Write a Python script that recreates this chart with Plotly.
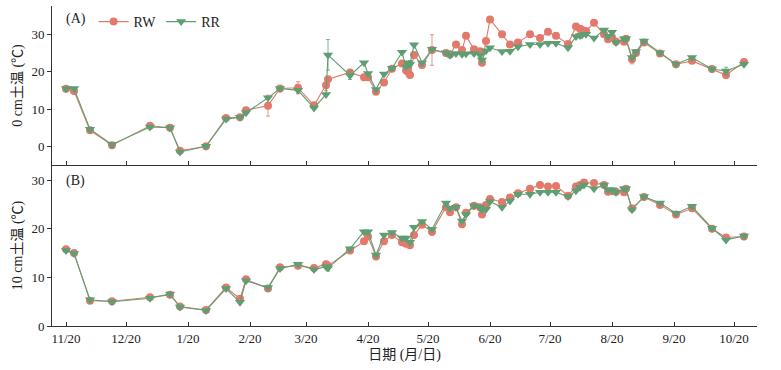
import plotly.graph_objects as go

# ---------------- data ----------------
dates_a = ["2017-11-20", "2017-11-24", "2017-12-02", "2017-12-13", "2018-01-01", "2018-01-11",
           "2018-01-16", "2018-01-29", "2018-02-08", "2018-02-15", "2018-02-18", "2018-03-01",
           "2018-03-07", "2018-03-16", "2018-03-24", "2018-03-30", "2018-03-31", "2018-04-11",
           "2018-04-18", "2018-04-20", "2018-04-24", "2018-04-28", "2018-05-02", "2018-05-07",
           "2018-05-09", "2018-05-10", "2018-05-11", "2018-05-13", "2018-05-17", "2018-05-22",
           "2018-05-29", "2018-05-31", "2018-06-03", "2018-06-06", "2018-06-08", "2018-06-12",
           "2018-06-15", "2018-06-16", "2018-06-18", "2018-06-20", "2018-06-26", "2018-06-30",
           "2018-07-04", "2018-07-10", "2018-07-15", "2018-07-19", "2018-07-23", "2018-07-29",
           "2018-08-02", "2018-08-04", "2018-08-05", "2018-08-07", "2018-08-11", "2018-08-16",
           "2018-08-18", "2018-08-20", "2018-08-22", "2018-08-26", "2018-08-27", "2018-08-30",
           "2018-09-01", "2018-09-05", "2018-09-13", "2018-09-21", "2018-09-29", "2018-10-09",
           "2018-10-16", "2018-10-25"]
rw_a = [15.4, 14.8, 4.3, 0.3, 5.5, 5.0, -1.2, 0.0, 7.6, 7.8, 9.7, 10.9,
        15.5, 15.7, 11.0, 16.4, 18.0, 19.8, 18.5, 18.5, 14.6, 17.1, 20.8, 22.2,
        20.4, 19.9, 19.1, 24.5, 21.8, 25.8, 25.0, 24.6, 27.3, 25.8, 29.6, 26.0,
        25.5, 22.4, 28.2, 34.0, 30.0, 27.3, 27.8, 30.0, 29.0, 30.7, 29.6, 27.4,
        32.1, 31.5, 31.2, 30.9, 33.1, 30.0, 28.7, 29.2, 28.1, 28.0, 28.8, 23.3,
        25.0, 27.8, 24.9, 22.0, 22.9, 20.7, 19.1, 22.6]
rr_a = [15.5, 15.5, 4.6, 0.5, 5.2, 5.0, -1.5, 0.0, 7.3, 7.8, 9.0, 13.0,
        15.5, 15.0, 10.3, 13.9, 24.5, 19.0, 22.4, 19.5, 15.2, 19.4, 20.9, 25.2,
        21.3, 22.4, 22.0, 27.2, 22.4, 26.0, 25.1, 24.4, 24.9, 24.7, 24.8, 24.9,
        24.5, 23.1, 25.6, 26.4, 25.4, 25.5, 26.7, 27.3, 27.3, 27.6, 27.6, 26.4,
        29.4, 29.7, 29.8, 30.0, 29.0, 31.2, 29.5, 30.6, 27.8, 28.8, 28.8, 23.8,
        25.4, 28.2, 25.1, 22.0, 23.8, 20.7, 20.2, 22.0]
rw_a_err = {"2018-03-01": 2.8, "2018-03-16": 1.6, "2018-03-30": 1.5, "2018-05-22": 4.1,
            "2018-08-30": 1.2, "2018-10-16": 0.9}
rr_a_err = {"2018-03-31": 4.1, "2018-04-11": 1.1, "2018-05-11": 1.0, "2018-10-16": 1.0}

dates_b = ["2017-11-20", "2017-11-24", "2017-12-02", "2017-12-13", "2018-01-01", "2018-01-11",
           "2018-01-16", "2018-01-29", "2018-02-08", "2018-02-15", "2018-02-18", "2018-03-01",
           "2018-03-07", "2018-03-16", "2018-03-24", "2018-03-30", "2018-03-31", "2018-04-11",
           "2018-04-18", "2018-04-20", "2018-04-24", "2018-04-28", "2018-05-02", "2018-05-07",
           "2018-05-09", "2018-05-11", "2018-05-13", "2018-05-17", "2018-05-22", "2018-05-29",
           "2018-05-31", "2018-06-03", "2018-06-06", "2018-06-08", "2018-06-12", "2018-06-15",
           "2018-06-16", "2018-06-18", "2018-06-20", "2018-06-26", "2018-06-30", "2018-07-04",
           "2018-07-10", "2018-07-15", "2018-07-19", "2018-07-23", "2018-07-29", "2018-08-02",
           "2018-08-04", "2018-08-06", "2018-08-11", "2018-08-16", "2018-08-18", "2018-08-20",
           "2018-08-22", "2018-08-26", "2018-08-27", "2018-08-30", "2018-09-05", "2018-09-13",
           "2018-09-21", "2018-09-29", "2018-10-09", "2018-10-16", "2018-10-25"]
rw_b = [15.8, 15.0, 5.2, 5.1, 5.9, 6.4, 4.0, 3.3, 7.9, 5.6, 9.6, 7.7,
        12.1, 12.4, 11.9, 12.7, 12.4, 15.5, 17.4, 18.4, 14.3, 17.4, 18.7, 17.2,
        16.9, 16.6, 18.7, 20.8, 19.4, 24.4, 23.4, 24.4, 20.9, 23.3, 24.7, 24.4,
        22.9, 24.9, 26.1, 25.5, 26.4, 27.3, 28.2, 29.0, 28.7, 28.8, 26.8, 28.7,
        29.0, 29.5, 29.4, 29.0, 27.6, 27.7, 27.6, 27.5, 28.2, 24.2, 26.5, 24.9,
        22.9, 24.2, 20.0, 18.2, 18.4]
rr_b = [15.5, 14.9, 5.4, 5.0, 5.7, 6.6, 3.9, 3.2, 7.7, 4.9, 9.3, 7.9,
        11.8, 12.7, 11.6, 12.2, 11.9, 15.9, 19.4, 19.4, 14.6, 18.7, 19.2, 18.1,
        18.1, 17.2, 20.3, 21.5, 19.9, 25.3, 24.2, 24.4, 21.6, 22.9, 24.7, 24.4,
        23.9, 24.0, 25.6, 24.4, 25.7, 27.1, 27.1, 27.5, 27.5, 27.5, 26.6, 27.8,
        28.5, 29.0, 28.2, 29.0, 28.0, 28.0, 27.5, 28.2, 28.2, 23.9, 26.6, 25.3,
        23.2, 24.6, 20.1, 17.7, 18.5]
rw_b_err = {"2018-05-22": 0.8, "2018-03-30": 0.6}
rr_b_err = {"2018-03-31": 0.6}

tick_dates = ["2017-11-20", "2017-12-20", "2018-01-20", "2018-02-20", "2018-03-20", "2018-04-20",
              "2018-05-20", "2018-06-20", "2018-07-20", "2018-08-20", "2018-09-20", "2018-10-20"]
tick_labels = ["11/20", "12/20", "1/20", "2/20", "3/20", "4/20",
               "5/20", "6/20", "7/20", "8/20", "9/20", "10/20"]

# ---------------- style ----------------
RW_COLOR = "#E2796B"
RR_COLOR = "#5E9E73"
FONT = "Liberation Serif, Noto Sans CJK SC"
AXIS_COLOR = "#333333"

def errs(dates, d):
    return [d.get(x, 0) for x in dates]

fig = go.Figure()

def add(dates, vals, err, color, symbol, size, name, yaxis, show):
    fig.add_trace(go.Scatter(
        x=dates, y=vals, name=name, mode="lines+markers",
        line=dict(color=color, width=1.1),
        marker=dict(color=color, symbol=symbol, size=size, line=dict(width=0)),
        error_y=dict(type="data", array=err, visible=True, color=color,
                     thickness=0.8, width=2),
        xaxis="x" if yaxis == "y" else "x2", yaxis=yaxis,
        showlegend=show))

add(dates_a, rw_a, errs(dates_a, rw_a_err), RW_COLOR, "circle", 8, "RW", "y", True)
add(dates_a, rr_a, errs(dates_a, rr_a_err), RR_COLOR, "triangle-down", 9, "RR", "y", True)
add(dates_b, rw_b, errs(dates_b, rw_b_err), RW_COLOR, "circle", 8, "RW", "y2", False)
add(dates_b, rr_b, errs(dates_b, rr_b_err), RR_COLOR, "triangle-down", 9, "RR", "y2", False)

xr = ["2017-11-13", "2018-10-31 12:00"]
split = (326 - 165) / 320.0

common_x = dict(type="date", range=xr, tickvals=tick_dates, showline=True, automargin=False,
                linecolor=AXIS_COLOR, linewidth=1, ticks="inside", ticklen=4,
                tickcolor=AXIS_COLOR, showgrid=False, zeroline=False,
                tickfont=dict(family=FONT, size=13, color="#222"))
common_y = dict(showline=True, linecolor=AXIS_COLOR, linewidth=1, ticks="outside",
                ticklen=4, tickcolor=AXIS_COLOR, showgrid=False, zeroline=False,
                automargin=False, tickfont=dict(family=FONT, size=13, color="#222"))

fig.update_layout(
    width=781, height=370,
    margin=dict(l=52, r=24, t=6, b=44),
    paper_bgcolor="white", plot_bgcolor="white",
    font=dict(family=FONT, size=13, color="#222"),
    xaxis=dict(common_x, domain=[0, 1], anchor="y", showticklabels=False),
    yaxis=dict(common_y, domain=[split, 1], range=[-5, 37.6], tickvals=[0, 10, 20, 30],
               title=dict(text="0 cm土温 (℃)", standoff=5,
                          font=dict(family=FONT, size=14))),
    xaxis2=dict(common_x, domain=[0, 1], anchor="y2", ticktext=tick_labels,
                title=dict(text="日期 (月/日)", standoff=4,
                           font=dict(family=FONT, size=14))),
    yaxis2=dict(common_y, domain=[0, split], range=[0, 33.1], tickvals=[0, 10, 20, 30],
                title=dict(text="10 cm土温 (℃)", standoff=5,
                           font=dict(family=FONT, size=14))),
    legend=dict(orientation="h", x=0.059, y=1.0, xanchor="left", yanchor="top",
                font=dict(family=FONT, size=14), bgcolor="rgba(0,0,0,0)",
                itemwidth=30, tracegroupgap=0),
    annotations=[
        dict(text="(A)", x=0.017, y=0.99, xref="paper", yref="paper",
             xanchor="left", yanchor="top", showarrow=False,
             font=dict(family=FONT, size=14)),
        dict(text="(B)", x=0.017, y=split - 0.02, xref="paper", yref="paper",
             xanchor="left", yanchor="top", showarrow=False,
             font=dict(family=FONT, size=14)),
    ],
)

fig.write_html("out.html", config={"displayModeBar": False},
               post_script="document.body.style.margin='0';document.body.style.padding='0';")
